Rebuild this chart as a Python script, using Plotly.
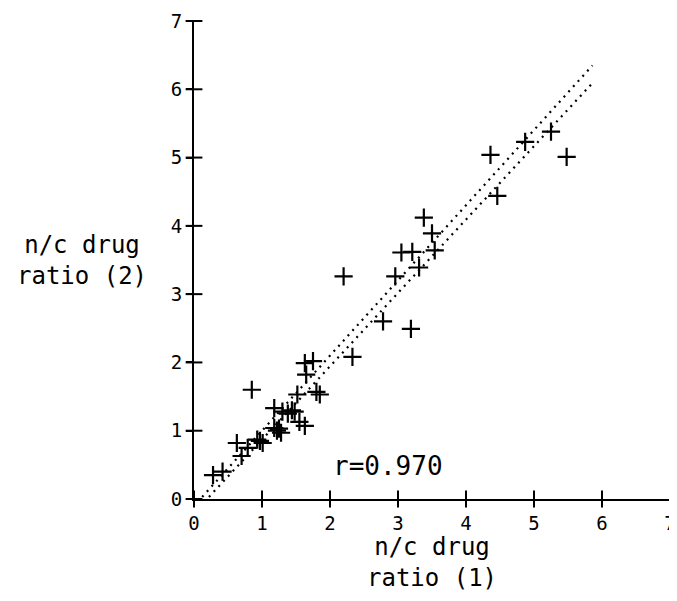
import plotly.graph_objects as go

# data
ratio1 = [0.28, 0.42, 0.63, 0.70, 0.79, 0.93, 1.01, 0.97, 0.85, 1.18, 1.22, 1.28, 1.25,
          1.18, 1.30, 1.44, 1.38, 1.52, 1.55, 1.63, 1.65, 1.63, 1.75, 1.80, 1.85, 1.48,
          2.20, 2.33, 2.78, 3.19, 2.96, 3.05, 3.21, 3.31, 3.54, 3.50, 3.38, 4.36, 4.46,
          4.87, 5.25, 5.48]
ratio2 = [0.35, 0.40, 0.82, 0.63, 0.75, 0.87, 0.82, 0.85, 1.60, 1.04, 1.00, 0.97, 1.03,
          1.33, 1.28, 1.30, 1.25, 1.53, 1.13, 1.07, 1.82, 1.99, 2.02, 1.57, 1.53, 1.28,
          3.26, 2.08, 2.60, 2.49, 3.26, 3.61, 3.62, 3.39, 3.64, 3.89, 4.12, 5.04, 4.44,
          5.23, 5.38, 5.01]
fit_a_x = [0.12, 5.86]
fit_a_y = [0.03, 6.35]
fit_b_x = [0.22, 5.84]
fit_b_y = [0.03, 6.07]
tick_vals = [0, 1, 2, 3, 4, 5, 6, 7]
r_text = "r=0.970"
r_pos = (2.86, 0.48)

FONT = "DejaVu Sans Mono"

fig = go.Figure()
for lx, ly in [(fit_a_x, fit_a_y), (fit_b_x, fit_b_y)]:
    fig.add_trace(go.Scatter(x=lx, y=ly, mode="lines",
                             line=dict(color="black", width=2.2, dash="2px,5px"),
                             hoverinfo="skip", showlegend=False))
fig.add_trace(go.Scatter(x=ratio1, y=ratio2, mode="markers",
                         marker=dict(symbol="cross-thin", size=13, color="black",
                                     line=dict(color="black", width=2.2)),
                         showlegend=False))
# tick marks that cross the axis lines (plotter style)
fig.add_trace(go.Scatter(x=tick_vals, y=[0] * len(tick_vals), mode="markers",
                         cliponaxis=False, hoverinfo="skip", showlegend=False,
                         marker=dict(symbol="line-ns", size=12, color="black",
                                     line=dict(color="black", width=2))))
fig.add_trace(go.Scatter(x=[0] * len(tick_vals), y=tick_vals, mode="markers",
                         cliponaxis=False, hoverinfo="skip", showlegend=False,
                         marker=dict(symbol="line-ew", size=12, color="black",
                                     line=dict(color="black", width=2))))

axis_common = dict(range=[0, 7], tickvals=tick_vals, showgrid=False, zeroline=False,
                   showline=True, linecolor="black", linewidth=2, automargin=False,
                   ticks="outside", ticklen=6, tickwidth=2, tickcolor="black",
                   ticklabeloverflow="allow",
                   tickfont=dict(family=FONT, size=19, color="black"))
# page body has an 8px margin, so the figure is sized to fit the 677x601 window
fig.update_layout(
    width=669, height=585,
    margin=dict(l=186, r=7, t=13, b=94),
    plot_bgcolor="white", paper_bgcolor="white",
    xaxis=dict(**axis_common),
    yaxis=dict(**axis_common),
    annotations=[
        dict(text="n/c drug<br>ratio (1)", xref="paper", yref="paper", x=0.5, y=-0.066,
             xanchor="center", yanchor="top", showarrow=False,
             font=dict(family=FONT, size=24, color="black")),
        dict(text="n/c drug<br>ratio (2)", xref="paper", yref="paper", x=-0.095, y=0.5,
             xanchor="right", yanchor="middle", showarrow=False,
             font=dict(family=FONT, size=24, color="black")),
        dict(text=r_text, xref="x", yref="y", x=r_pos[0], y=r_pos[1],
             xanchor="center", yanchor="middle", showarrow=False,
             font=dict(family=FONT, size=26, color="black")),
    ],
)
fig.write_html("out.html")
